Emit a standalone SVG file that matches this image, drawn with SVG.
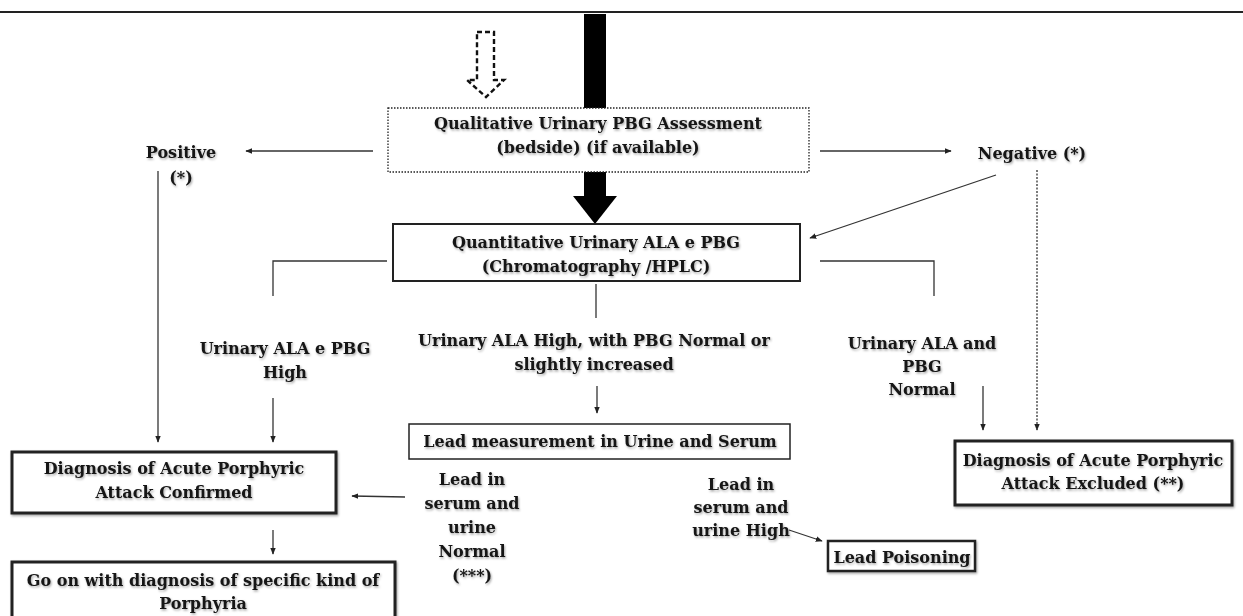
<svg xmlns="http://www.w3.org/2000/svg" width="1243" height="616" viewBox="0 0 1243 616">
<defs>
  <marker id="ah" viewBox="0 0 10 10" refX="9" refY="5" markerWidth="7" markerHeight="7" markerUnits="userSpaceOnUse" orient="auto">
    <path d="M0,1 L10,5 L0,9 Z" fill="#222"/>
  </marker>
  <filter id="sh" x="-10%" y="-20%" width="120%" height="150%">
    <feDropShadow dx="1" dy="1.5" stdDeviation="1.2" flood-color="#000" flood-opacity="0.35"/>
  </filter>
</defs>
<style>
  text { font-family: "DejaVu Serif", "Liberation Serif", serif; font-weight: bold; font-size: 16px; fill: #141414; text-anchor: middle; }
  .t { filter: url(#sh); }
  .ln { stroke: #333; stroke-width: 1.3; fill: none; }
  .ar { stroke: #333; stroke-width: 1.3; fill: none; marker-end: url(#ah); }
  .box { fill: #fff; stroke: #222; }
</style>
<rect width="1243" height="616" fill="#fff"/>
<line x1="0" y1="12" x2="1243" y2="12" stroke="#222" stroke-width="2"/>

<g id="connectors">
  <!-- thick main arrow -->
  <rect x="584" y="14" width="22" height="186" fill="#000"/>
  <path d="M573,196 L617,196 L595,224 Z" fill="#000"/>
  <!-- dashed hollow arrow -->
  <path d="M477,32 L494,32 L494,80 L504,80 L486,97 L467,80 L477,80 Z" fill="#fff" stroke="#111" stroke-width="2.4" stroke-dasharray="5,3"/>
  <!-- to positive/negative -->
  <line class="ar" x1="373" y1="151" x2="246" y2="151"/>
  <line class="ar" x1="820" y1="151" x2="951" y2="151"/>
  <!-- positive down -->
  <line class="ar" x1="158" y1="171" x2="158" y2="442"/>
  <!-- negative to quantitative -->
  <line class="ar" x1="996" y1="175" x2="810" y2="238"/>
  <!-- negative dotted down -->
  <line class="ar" x1="1037" y1="170" x2="1037" y2="430" stroke-dasharray="2,1.5"/>
  <!-- quantitative branches -->
  <polyline class="ln" points="387,261 273,261 273,296"/>
  <polyline class="ln" points="820,261 934,261 934,296"/>
  <line class="ln" x1="596" y1="284" x2="596" y2="318"/>
  <line class="ar" x1="273" y1="398" x2="273" y2="442"/>
  <line class="ar" x1="597" y1="386" x2="597" y2="413"/>
  <line class="ar" x1="983" y1="386" x2="983" y2="430"/>
  <!-- confirmed to go on -->
  <line class="ar" x1="273" y1="530" x2="273" y2="554"/>
  <!-- lead normal to confirmed -->
  <line class="ar" x1="405" y1="497" x2="352" y2="496"/>
  <!-- lead high to poisoning -->
  <line class="ar" x1="789" y1="530" x2="822" y2="541"/>
</g>

<g id="qualitative">
  <rect x="388" y="108" width="421" height="64" fill="#fff" stroke="#222" stroke-width="1.3" stroke-dasharray="1.5,1.5"/>
  <text class="t" x="598" y="129">Qualitative Urinary PBG Assessment</text>
  <text class="t" x="598" y="153">(bedside) (if available)</text>
</g>

<g id="positive">
  <text class="t" x="181" y="158">Positive</text>
  <text class="t" x="181" y="183">(*)</text>
</g>

<g id="negative">
  <text class="t" x="1032" y="159">Negative (*)</text>
</g>

<g id="quantitative">
  <rect class="box" x="393" y="224" width="407" height="57" stroke-width="2"/>
  <text class="t" x="596" y="248">Quantitative Urinary ALA  e PBG</text>
  <text class="t" x="596" y="272">(Chromatography /HPLC)</text>
</g>

<g id="ala-pbg-high">
  <text class="t" x="285" y="354">Urinary ALA e PBG</text>
  <text class="t" x="285" y="378">High</text>
</g>

<g id="ala-high">
  <text class="t" x="594" y="346">Urinary ALA High, with PBG Normal or</text>
  <text class="t" x="594" y="370">slightly increased</text>
</g>

<g id="ala-pbg-normal">
  <text class="t" x="922" y="349">Urinary ALA and</text>
  <text class="t" x="922" y="372">PBG</text>
  <text class="t" x="922" y="395">Normal</text>
</g>

<g id="lead-measurement">
  <rect class="box" x="409" y="424" width="381" height="35" stroke-width="1.5"/>
  <text class="t" x="600" y="447">Lead measurement in Urine and Serum</text>
</g>

<g id="confirmed">
  <rect class="box" x="12" y="452" width="324" height="61" stroke-width="3" filter="url(#sh)"/>
  <text class="t" x="174" y="474">Diagnosis of  Acute Porphyric</text>
  <text class="t" x="174" y="498">Attack Confirmed</text>
</g>

<g id="lead-normal">
  <text class="t" x="472" y="485">Lead in</text>
  <text class="t" x="472" y="509">serum and</text>
  <text class="t" x="472" y="533">urine</text>
  <text class="t" x="472" y="557">Normal</text>
  <text class="t" x="472" y="581">(***)</text>
</g>

<g id="lead-high">
  <text class="t" x="741" y="490">Lead in</text>
  <text class="t" x="741" y="513">serum and</text>
  <text class="t" x="741" y="536">urine High</text>
</g>

<g id="lead-poisoning">
  <rect class="box" x="828" y="541" width="147" height="30" stroke-width="2.5" filter="url(#sh)"/>
  <text class="t" x="902" y="563">Lead Poisoning</text>
</g>

<g id="excluded">
  <rect class="box" x="955" y="441" width="277" height="64" stroke-width="3" filter="url(#sh)"/>
  <text class="t" x="1093" y="466">Diagnosis of Acute Porphyric</text>
  <text class="t" x="1093" y="489">Attack Excluded (**)</text>
</g>

<g id="go-on">
  <rect class="box" x="12" y="562" width="383" height="60" stroke-width="3" filter="url(#sh)"/>
  <text class="t" x="203" y="586">Go on with diagnosis of specific kind of</text>
  <text class="t" x="203" y="609">Porphyria</text>
</g>
</svg>
